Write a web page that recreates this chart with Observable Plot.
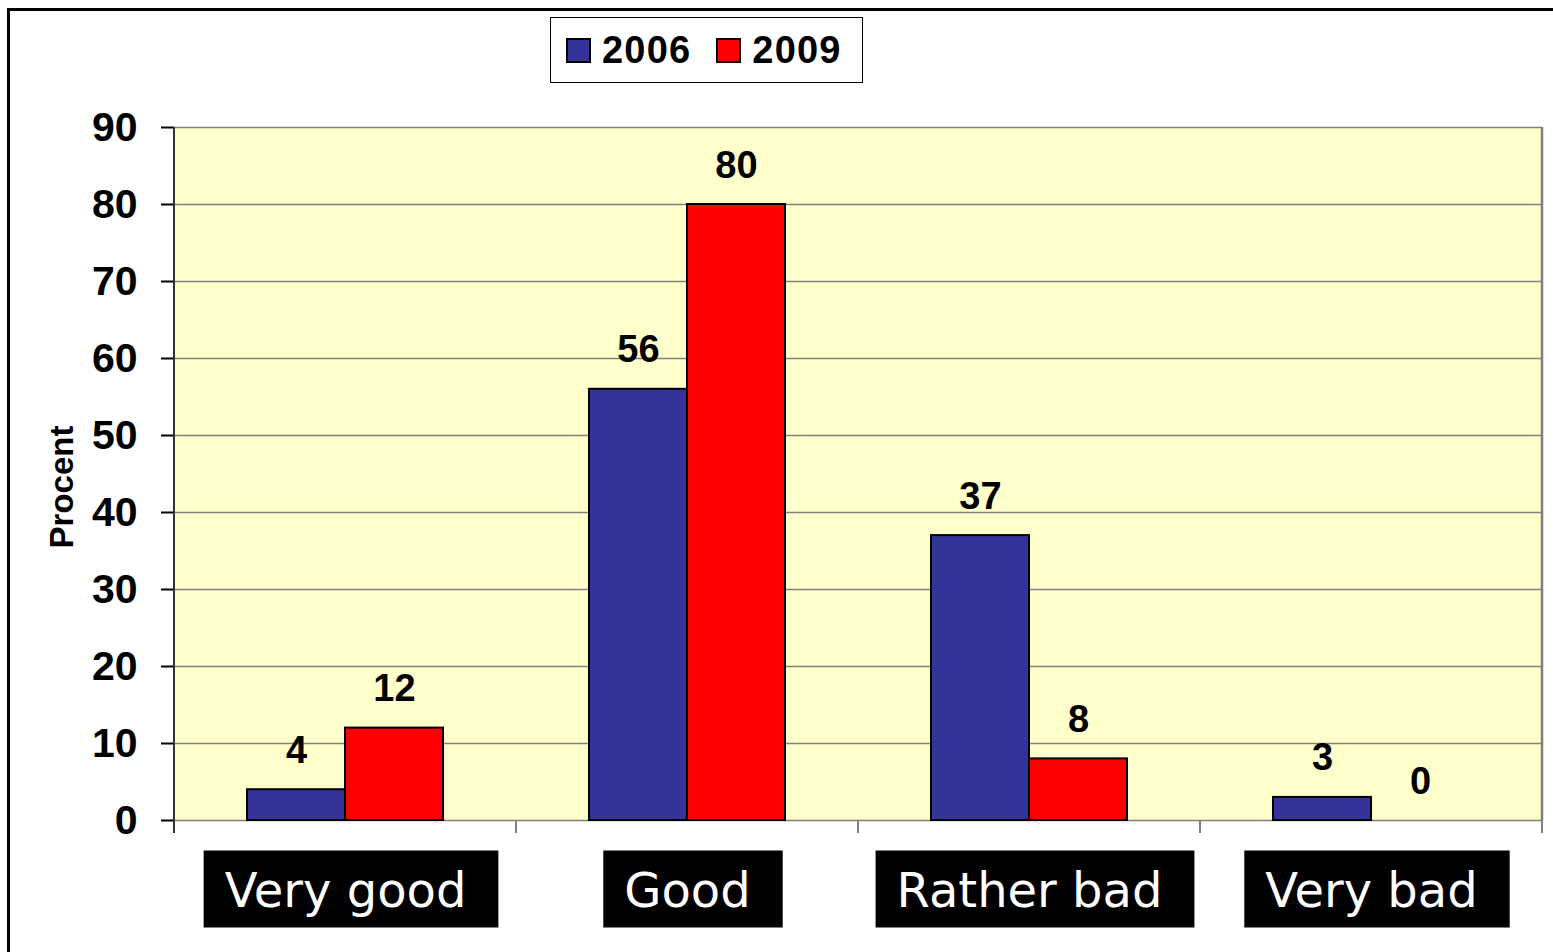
<!DOCTYPE html>
<html>
<head>
<meta charset="utf-8">
<script src="https://cdn.jsdelivr.net/npm/d3@7"></script>
<script src="https://cdn.jsdelivr.net/npm/@observablehq/plot@0.6"></script>
<style>
  html, body { margin: 0; padding: 0; background: #fff; overflow: hidden; }
  #wrap { position: relative; width: 1553px; height: 952px; overflow: hidden; }
  #border { position: absolute; left: 7px; top: 8px; width: 1700px; height: 1100px; border: 3px solid #000; box-sizing: border-box; }
  #chart { position: absolute; left: 0; top: 0; }
  #legend {
    position: absolute; left: 550px; top: 17px; width: 313px; height: 66px;
    box-sizing: border-box; border: 1px solid #000; background: #fff;
    display: flex; align-items: center; padding-left: 15px;
    font: bold 38px "Liberation Sans", Arial, sans-serif; letter-spacing: 1.2px; color: #000;
  }
  #legend .item { display: flex; align-items: center; margin-right: 25px; }
  #legend .sw { width: 25px; height: 25px; box-sizing: border-box; border: 2px solid #000; margin-right: 11px; }
  #chart g[aria-label="y-axis tick label"] { font: bold 41px "Liberation Sans", Arial, sans-serif; }
  #chart g[aria-label="y-axis tick"] { stroke: #808080; stroke-width: 2px; }
  #chart g[aria-label="y-axis label"] { font: bold 33px "Liberation Sans", Arial, sans-serif; }
</style>
</head>
<body>
<div id="wrap">
  <div id="border"></div>
  <div id="chart"></div>
  <div id="legend"></div>
</div>
<script>
// Share of answers per rating, in percent
const categories = ["Very good", "Good", "Rather bad", "Very bad"];
const years = ["2006", "2009"];
const values2006 = [4, 56, 37, 3];
const values2009 = [12, 80, 8, 0];
const yTicks = [0, 10, 20, 30, 40, 50, 60, 70, 80, 90];
const yearColors = ["#333399", "#FF0000"];

const rows = categories.flatMap((c, i) => [
  {category: c, year: years[0], value: values2006[i]},
  {category: c, year: years[1], value: values2009[i]}
]);

const chart = Plot.plot({
  width: 1553,
  height: 952,
  marginLeft: 173,
  marginRight: 10,
  marginTop: 127,
  marginBottom: 132,
  style: {background: "transparent", overflow: "visible", fontFamily: "'Liberation Sans', Arial, sans-serif", color: "#000"},
  fx: {domain: categories, padding: 0, axis: null},
  x: {domain: years, paddingInner: 0, paddingOuter: 0.73, axis: null},
  y: {domain: [0, 90], ticks: yTicks, tickSize: 13, tickPadding: 24, label: "Procent", labelAnchor: "center", labelOffset: 125, labelArrow: "none"},
  color: {domain: years, range: yearColors},
  marks: [
    // slight overlap so adjacent facet backgrounds join without seams
    Plot.frame({fill: "#FFFFCC", stroke: "none", insetLeft: -0.6, insetRight: -0.6}),
    Plot.ruleY(yTicks, {stroke: "#808080", strokeWidth: 1.5}),
    Plot.barY(rows.filter(d => d.value > 0), {fx: "category", x: "year", y: "value", fill: "year", stroke: "#000", strokeWidth: 2}),
    Plot.text(rows, {fx: "category", x: "year", y: "value", text: d => String(d.value), dy: -27, lineAnchor: "bottom", fontSize: 38, fontWeight: "bold", fill: "#000"}),
    Plot.text(categories, {fx: d => d, text: d => d, frameAnchor: "bottom", dy: 86, fill: "#fff", fontSize: 48, fontFamily: "'DejaVu Sans', Verdana, sans-serif", className: "category-label"})
  ]
});

document.getElementById("chart").appendChild(chart);

// Legend
const legend = d3.select("#legend");
years.forEach((yr, i) => {
  const item = legend.append("div").attr("class", "item");
  item.append("div").attr("class", "sw").style("background", yearColors[i]);
  item.append("span").text(yr);
});

// Axis lines, category separators and the right edge of the plot area
const svg = d3.select(chart);
const fx = chart.scale("fx");
const y = chart.scale("y");
const y0 = y.apply(0), yTop = y.apply(yTicks[yTicks.length - 1]);
const bounds = categories.map(c => fx.apply(c));
bounds.push(fx.apply(categories[categories.length - 1]) + fx.bandwidth);

const lines = svg.append("g");
lines.selectAll("line.sep").data(bounds).join("line")
  .attr("x1", d => d).attr("x2", d => d)
  .attr("y1", y0).attr("y2", y0 + 13)
  .attr("stroke", "#808080").attr("stroke-width", 2);
lines.append("line")
  .attr("x1", bounds[bounds.length - 1]).attr("x2", bounds[bounds.length - 1])
  .attr("y1", yTop).attr("y2", y0)
  .attr("stroke", "#808080").attr("stroke-width", 2.5);
lines.append("line")
  .attr("x1", bounds[0]).attr("x2", bounds[0])
  .attr("y1", yTop).attr("y2", y0 + 13)
  .attr("stroke", "#333").attr("stroke-width", 2);

// Nudge the y-axis title a little lower
svg.selectAll('g[aria-label="y-axis label"] text').attr("dx", -13);

// Black boxes behind the category labels
const svgBox = chart.getBoundingClientRect();
const boxes = svg.insert("g", ":first-child");
svg.selectAll("text")
  .filter(function() { return categories.includes(this.textContent); })
  .each(function() {
    const r = this.getBoundingClientRect();
    const cy = (r.top + r.bottom) / 2 - svgBox.top;
    boxes.append("rect")
      .attr("x", r.left - svgBox.left - 21)
      .attr("y", cy - 39)
      .attr("width", r.width + 21 + 32)
      .attr("height", 77)
      .attr("fill", "#000");
  });
</script>
</body>
</html>
